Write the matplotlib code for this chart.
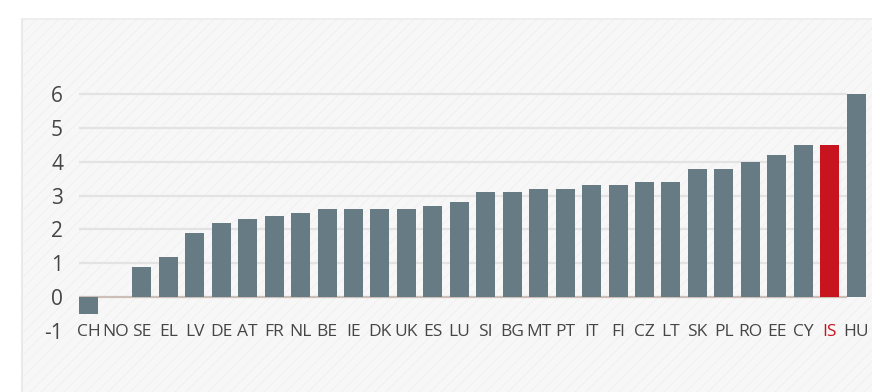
import matplotlib.pyplot as plt
from matplotlib.patches import Rectangle

countries = ['CH', 'NO', 'SE', 'EL', 'LV', 'DE', 'AT', 'FR', 'NL', 'BE', 'IE', 'DK', 'UK', 'ES', 'LU',
             'SI', 'BG', 'MT', 'PT', 'IT', 'FI', 'CZ', 'LT', 'SK', 'PL', 'RO', 'EE', 'CY', 'IS', 'HU']
values = [-0.5, 0.0, 0.9, 1.2, 1.9, 2.2, 2.3, 2.4, 2.5, 2.6, 2.6, 2.6, 2.6, 2.7, 2.8,
          3.1, 3.1, 3.2, 3.2, 3.3, 3.3, 3.4, 3.4, 3.8, 3.8, 4.0, 4.2, 4.5, 4.5, 6.0]
highlight = 'IS'
yticks = [-1, 0, 1, 2, 3, 4, 5, 6]

plt.rcParams['font.family'] = ['Open Sans', 'DejaVu Sans']
plt.rcParams['hatch.linewidth'] = 0.5

grey = '#667b84'
red = '#c8141f'
txt = '#454545'

fig = plt.figure(figsize=(8.72, 3.92), dpi=100)
fig.patch.set_facecolor('white')

# light hatched panel behind the chart
panel = Rectangle((22 / 872, 0), 1, 1 - 19 / 392, transform=fig.transFigure,
                  facecolor='#f7f7f7', edgecolor='#efefef', hatch='///', linewidth=0, zorder=-10)
fig.add_artist(panel)
fig.add_artist(plt.Line2D([22 / 872, 22 / 872], [0, 1 - 19 / 392], transform=fig.transFigure,
                          color='#e6e6e6', lw=1.2, zorder=-9))
fig.add_artist(plt.Line2D([22 / 872, 1], [1 - 19 / 392, 1 - 19 / 392], transform=fig.transFigure,
                          color='#ebebeb', lw=1.2, zorder=-9))

ax = fig.add_axes([0.0899, 0.130, 0.904, 0.6556])
ax.set_facecolor('none')
ax.set_zorder(5)

x = list(range(len(countries)))
colors = [red if c == highlight else grey for c in countries]

# grid lines
for t in yticks:
    if t < 0:
        continue
    ax.hlines(t, -0.36, len(countries) - 1.36, color='#cbbfb7' if t == 0 else '#e3e3e3',
              lw=1.6, zorder=1)

ax.bar(x, values, width=0.72, color=colors, zorder=2)

ax.set_xlim(-0.4, 29.4)
ax.set_ylim(-1.3, 6.3)
ax.set_yticks(yticks)
ax.set_yticklabels([str(t) for t in yticks], fontsize=15, color=txt)
ax.tick_params(axis='y', length=0, pad=11)
ax.set_xticks([])

for i, c in enumerate(countries):
    ax.text(i, -1.02, c, ha='center', va='center', fontsize=12.5,
            color=red if c == highlight else txt)

for s in ax.spines.values():
    s.set_visible(False)

fig.savefig('out.png', dpi=100)
